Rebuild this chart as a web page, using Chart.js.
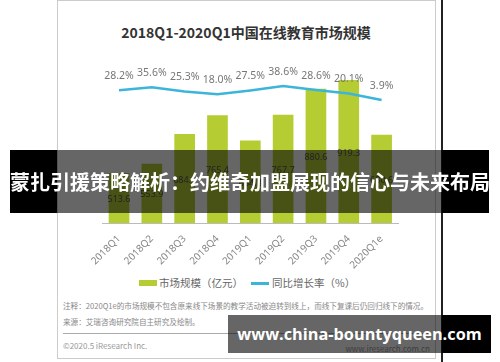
<!DOCTYPE html>
<html>
<head>
<meta charset="utf-8">
<script src="https://cdn.jsdelivr.net/npm/chart.js@4.4.1/dist/chart.umd.min.js"></script>
<style>
html, body { margin: 0; padding: 0; background: #fff; width: 500px; height: 362px; overflow: hidden; font-family: "Noto Sans CJK SC", "Noto Sans", sans-serif; }
div, canvas { position: absolute; }
#card { left: 57px; top: 0; width: 379px; height: 359px; border: 1px solid #ccc; box-sizing: border-box; }
#edge { left: 441px; top: 0; width: 2px; height: 362px; background: #222; }
#title { left: 57px; top: 21px; width: 378px; text-align: center; font-size: 14px; font-weight: 700; color: #333; line-height: 22px; }
#wrap { left: 57px; top: 40px; width: 378px; height: 230px; }
.lg { font-size: 10.5px; color: #666; line-height: 14px; top: 276px; white-space: nowrap; }
.note { left: 63px; font-size: 7.6px; color: #888; white-space: nowrap; line-height: 10px; }
#rule { left: 63px; top: 333px; width: 367px; height: 1px; background: #aaa; }
.foot { font-size: 8px; color: #999; top: 340px; line-height: 12px; white-space: nowrap; }
.blk { background: #000; }
.half { background: rgba(0,0,0,0.6); }
#bannerText { left: 0; top: 150px; width: 500px; height: 63px; line-height: 63px; text-align: center; color: #fff; font-size: 20px; font-weight: 700; white-space: nowrap; }
#siteText { left: 228px; top: 315px; width: 263px; height: 38px; line-height: 38px; text-align: center; color: #fff; font-family: "Open Sans", sans-serif; font-size: 16.3px; font-weight: 700; white-space: nowrap; }
</style>
</head>
<body>
<div id="card"></div>
<div id="edge"></div>
<div id="title">2018Q1-2020Q1中国在线教育市场规模</div>
<div id="wrap"><canvas id="chart" width="378" height="230"></canvas></div>

<div style="left:139px;top:280px;width:18px;height:6px;background:#b5cd33"></div>
<div class="lg" style="left:159px">市场规模（亿元）</div>
<div style="left:251px;top:282px;width:18px;height:3px;background:#3cb5da"></div>
<div class="lg" style="left:272px">同比增长率（%）</div>

<div class="note" style="top:301px">注释：2020Q1e的市场规模不包含原来线下场景的教学活动被迫转到线上，而线下复课后仍回归线下的情况。</div>
<div class="note" style="top:317px">来源：艾瑞咨询研究院自主研究及绘制。</div>
<div id="rule"></div>
<div class="foot" style="left:63px">©2020.5 iResearch Inc.</div>
<div class="foot" style="left:330px;width:100px;text-align:right;top:343px">www.iresearch.com.cn</div>

<div class="blk" style="left:10px;top:150px;width:47px;height:63px"></div>
<div class="half" style="left:57px;top:150px;width:385px;height:63px"></div>
<div class="blk" style="left:442px;top:150px;width:47px;height:63px"></div>
<div id="bannerText">蒙扎引援策略解析：约维奇加盟展现的信心与未来布局</div>

<div class="half" style="left:228px;top:315px;width:214px;height:38px"></div>
<div class="blk" style="left:442px;top:315px;width:49px;height:38px"></div>
<div id="siteText">www.china-bountyqueen.com</div>

<script>
const quarters = ['2018Q1', '2018Q2', '2018Q3', '2018Q4', '2019Q1', '2019Q2', '2019Q3', '2019Q4', '2020Q1e'];
const marketSize = [513.6, 553.9, 684.0, 765.4, 654.8, 767.7, 880.6, 919.3, 680.6];
const growthRate = [28.2, 35.6, 25.3, 18.0, 27.5, 38.6, 28.6, 20.1, 3.9];

Chart.defaults.font.family = '"Noto Sans", sans-serif';

// labels: value in the middle of each visible bar, rate above each point
const labelPlugin = {
    id: 'labelPlugin',
    afterDatasetsDraw(chart) {
        const ctx = chart.ctx;
        const bottom = chart.chartArea.bottom;
        ctx.save();
        ctx.textAlign = 'center';
        ctx.textBaseline = 'middle';
        ctx.font = '9px "Noto Sans"';
        ctx.fillStyle = '#555';
        chart.getDatasetMeta(0).data.forEach((bar, i) => {
            const base = Math.min(bar.base, bottom);
            ctx.fillText(marketSize[i].toFixed(1), bar.x, (bar.y + base) / 2 + 1.5);
        });
        ctx.font = '10.5px "Noto Sans"';
        ctx.fillStyle = '#777';
        chart.getDatasetMeta(1).data.forEach((pt, i) => {
            ctx.fillText(growthRate[i].toFixed(1) + '%', pt.x, pt.y - 14);
        });
        ctx.restore();
    }
};

new Chart(document.getElementById('chart'), {
    type: 'bar',
    data: {
        labels: quarters,
        datasets: [{
            label: '市场规模（亿元）',
            data: marketSize,
            backgroundColor: '#b5cd33',
            barPercentage: 0.63,
            categoryPercentage: 1,
            yAxisID: 'y',
            order: 1
        }, {
            type: 'line',
            label: '同比增长率（%）',
            data: growthRate,
            borderColor: '#3cb5da',
            borderWidth: 2.5,
            pointRadius: 0,
            tension: 0,
            fill: false,
            yAxisID: 'y1',
            order: 0
        }]
    },
    options: {
        responsive: false,
        animation: false,
        devicePixelRatio: 1,
        layout: { padding: { left: 45.6, right: 37, top: 0, bottom: 0 } },
        plugins: {
            legend: { display: false },
            title: { display: false },
            tooltip: { enabled: false }
        },
        scales: {
            x: {
                grid: { display: false },
                border: { display: true, color: '#bbb', width: 1 },
                ticks: {
                    color: '#888',
                    font: { size: 10 },
                    minRotation: 45,
                    maxRotation: 45,
                    padding: 2,
                    autoSkip: false
                },
                afterFit(scale) { scale.height = 47; }
            },
            y: { display: false, min: 296, max: 1093 },
            y1: { display: false, position: 'right', min: -301.2, max: 152.8 }
        }
    },
    plugins: [labelPlugin]
});
</script>
</body>
</html>
